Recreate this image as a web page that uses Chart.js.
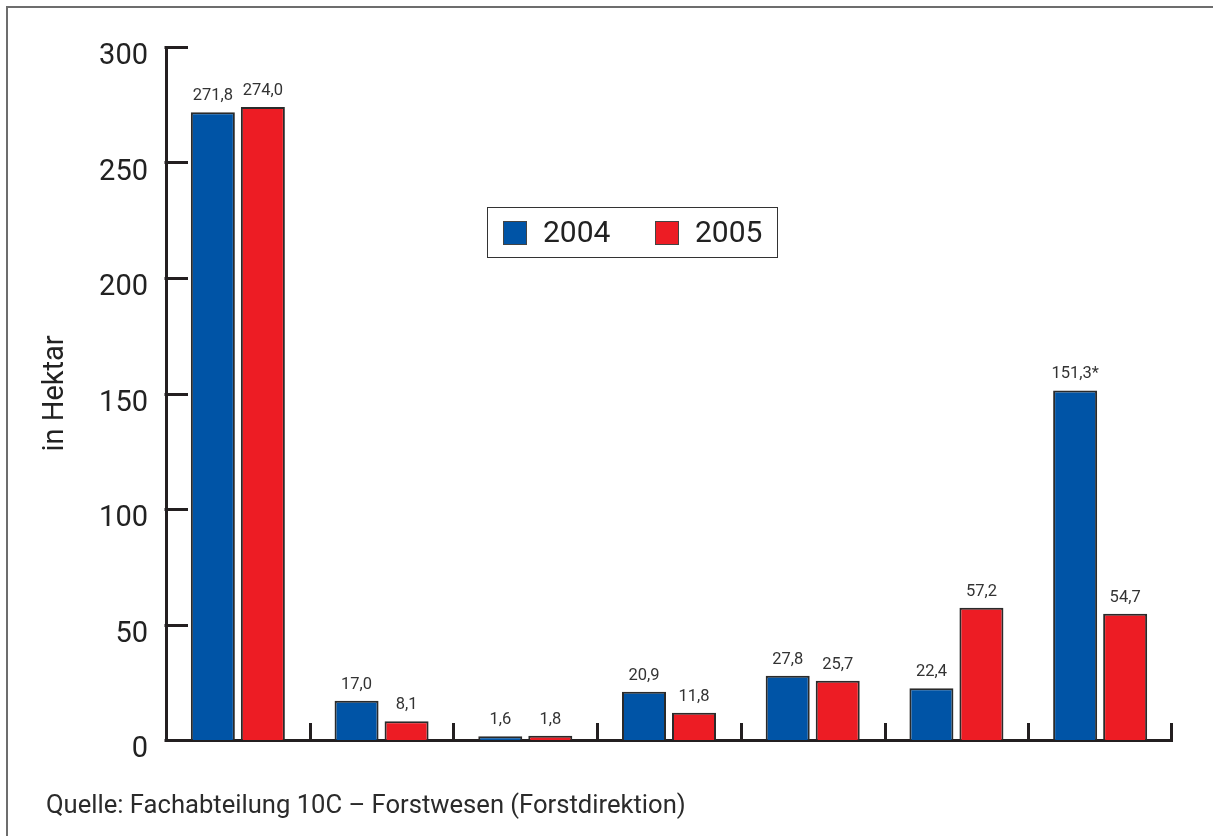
<!DOCTYPE html>
<html>
<head>
<meta charset="utf-8">
<script src="https://cdn.jsdelivr.net/npm/chart.js@4.4.1/dist/chart.umd.min.js"></script>
<style>
  html, body { margin: 0; padding: 0; background: #fff; }
  body { width: 1213px; height: 836px; position: relative; overflow: hidden; font-family: Roboto, sans-serif; }
  #frame { position: absolute; left: 6px; top: 6px; width: 1300px; height: 900px;
           border-top: 2px solid #6d6d6d; border-left: 2px solid #6d6d6d; }
  #wrap { position: absolute; left: 0; top: 0; width: 1213px; height: 836px; }
  #source { position: absolute; left: 46px; top: 789px; font-size: 25.6px; color: #2b2b2b; }
</style>
</head>
<body>
<div id="frame"></div>
<div id="wrap"><canvas id="chart"></canvas></div>
<div id="source">Quelle: Fachabteilung 10C – Forstwesen (Forstdirektion)</div>
<script>
// categories are unlabelled on the axis
const categories = ['', '', '', '', '', '', ''];
const seriesNames = ['2004', '2005'];
const values2004 = [271.8, 17.0, 1.6, 20.9, 27.8, 22.4, 151.3];
const values2005 = [274.0, 8.1, 1.8, 11.8, 25.7, 57.2, 54.7];
const notes2004 = ['', '', '', '', '', '', '*'];
const notes2005 = ['', '', '', '', '', '', ''];
const yTicks = [0, 50, 100, 150, 200, 250, 300];

const BLUE = '#0054a6';
const RED = '#ed1c24';
const INK = '#231f20';

const fmt = v => v.toFixed(1).replace('.', ',');

// axis tick marks, value labels and the boxed legend
const decorations = {
  id: 'decorations',
  afterDatasetsDraw(chart) {
    const ctx = chart.ctx;
    const x = chart.scales.x, y = chart.scales.y;
    const area = chart.chartArea;
    ctx.save();
    ctx.strokeStyle = INK;
    ctx.lineWidth = 3;
    ctx.lineCap = 'butt';

    // short horizontal ticks pointing into the plot
    y.ticks.forEach(t => {
      const py = Math.round(y.getPixelForValue(t.value)) + 0.5;
      ctx.beginPath();
      ctx.moveTo(area.left - 1.5, py);
      ctx.lineTo(area.left + 22, py);
      ctx.stroke();
    });

    // vertical ticks at the category boundaries
    for (let i = 0; i < categories.length; i++) {
      const px = i < categories.length - 1
        ? (x.getPixelForValue(i) + x.getPixelForValue(i + 1)) / 2
        : area.right - 1.5;
      ctx.beginPath();
      ctx.moveTo(Math.round(px) + 0.5, area.bottom);
      ctx.lineTo(Math.round(px) + 0.5, area.bottom - 17);
      ctx.stroke();
    }

    // value labels above the bars
    const notes = [notes2004, notes2005];
    ctx.fillStyle = '#333';
    ctx.font = '16.5px Roboto';
    ctx.textAlign = 'center';
    ctx.textBaseline = 'bottom';
    chart.data.datasets.forEach((ds, di) => {
      chart.getDatasetMeta(di).data.forEach((bar, i) => {
        ctx.fillText(fmt(ds.data[i]) + notes[di][i], bar.x, bar.y - 8);
      });
    });

    // legend box
    const lx = 487, ly = 207, lw = 290, lh = 50;
    ctx.lineWidth = 1;
    ctx.strokeStyle = '#333';
    ctx.strokeRect(lx + 0.5, ly + 0.5, lw, lh);
    ctx.font = '30px Roboto';
    ctx.textAlign = 'left';
    ctx.textBaseline = 'middle';
    chart.data.datasets.forEach((ds, di) => {
      const bx = lx + 16 + di * 152;
      ctx.fillStyle = ds.backgroundColor;
      ctx.fillRect(bx, ly + 14, 24, 24);
      ctx.strokeStyle = '#444';
      ctx.strokeRect(bx + 0.5, ly + 14.5, 23, 23);
      ctx.fillStyle = '#222';
      ctx.fillText(ds.label, bx + 40, ly + 27);
    });
    ctx.restore();
  }
};

new Chart(document.getElementById('chart'), {
  type: 'bar',
  data: {
    labels: categories,
    datasets: [
      { label: seriesNames[0], data: values2004, backgroundColor: BLUE },
      { label: seriesNames[1], data: values2005, backgroundColor: RED }
    ]
  },
  plugins: [decorations],
  options: {
    responsive: true,
    maintainAspectRatio: false,
    animation: false,
    layout: { padding: { top: 47, right: 41, bottom: 0, left: 0 } },
    datasets: {
      bar: {
        categoryPercentage: 0.696,
        barPercentage: 0.88,
        borderWidth: 2,
        borderColor: '#2a2a2a',
        borderSkipped: 'start'
      }
    },
    plugins: {
      legend: { display: false },
      tooltip: { enabled: false }
    },
    scales: {
      x: {
        grid: { display: false },
        border: { display: true, color: INK, width: 3 },
        ticks: { display: false },
        afterFit: s => { s.height = 96; }
      },
      y: {
        min: 0,
        max: 300,
        afterBuildTicks: s => { s.ticks = yTicks.map(v => ({ value: v })); },
        grid: { display: false },
        border: { display: true, color: INK, width: 3 },
        ticks: {
          padding: 10,
          labelOffset: 10,
          color: '#222',
          font: { family: 'Roboto', size: 29 }
        },
        title: {
          display: true,
          text: 'in Hektar',
          color: '#222',
          font: { family: 'Roboto', size: 29 },
          padding: { top: 38, bottom: 0 }
        },
        afterFit: s => { s.width = 166; }
      }
    }
  }
});
</script>
</body>
</html>
